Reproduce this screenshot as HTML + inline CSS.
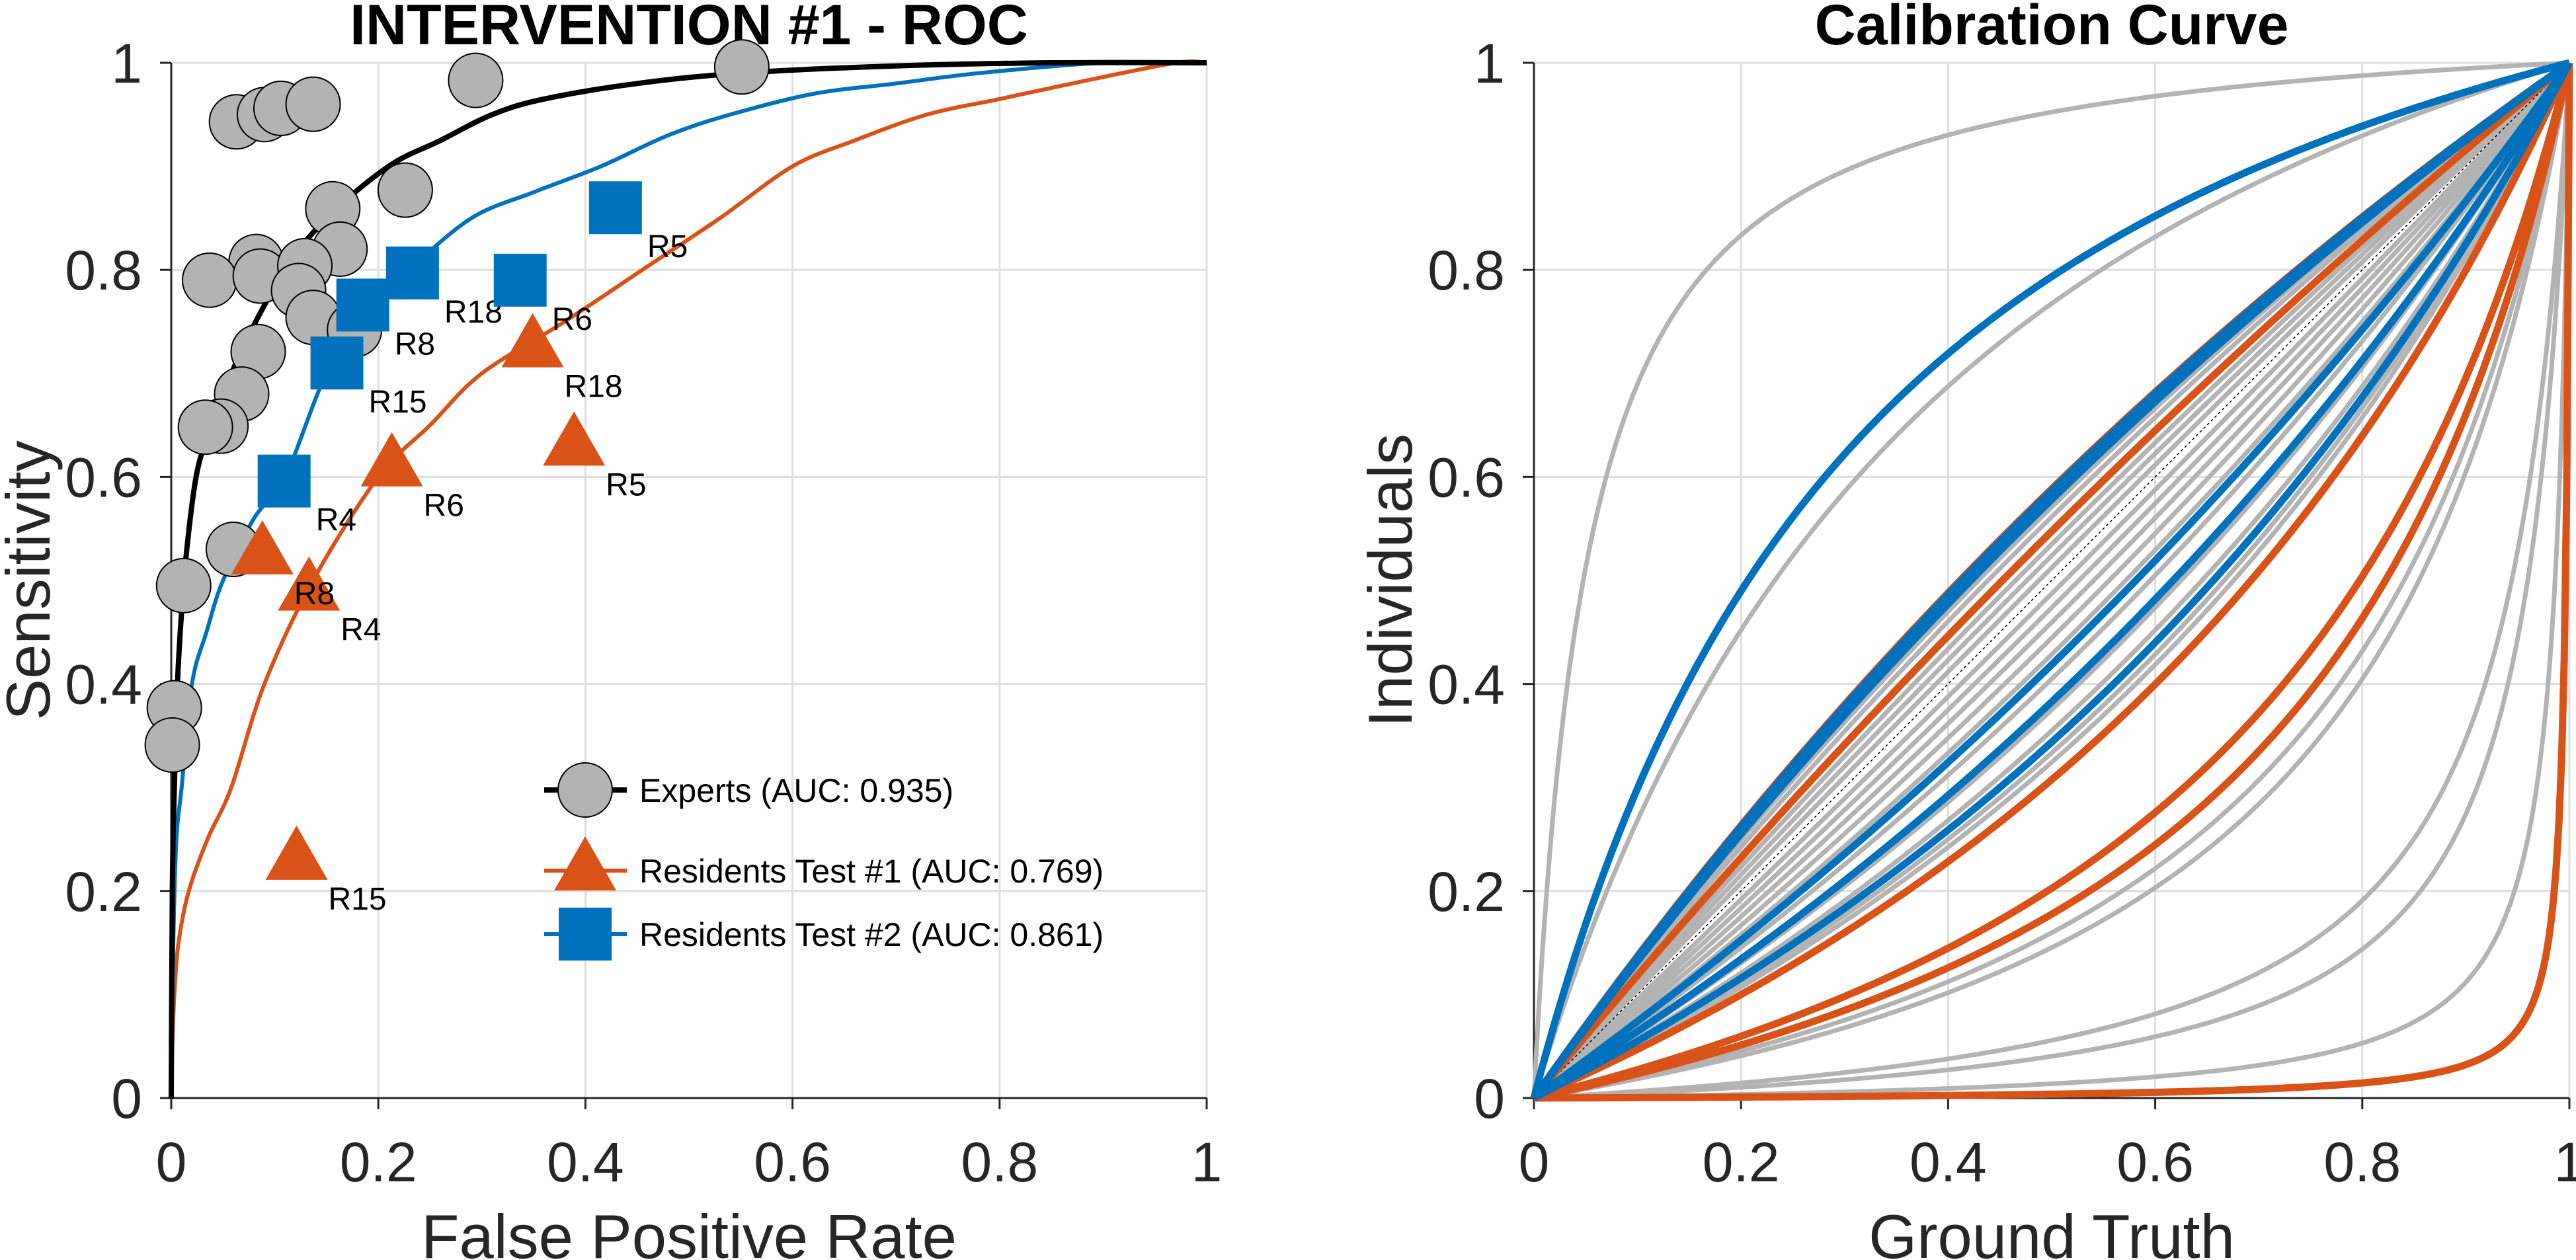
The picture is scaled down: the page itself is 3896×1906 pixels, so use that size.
<!DOCTYPE html>
<html><head><meta charset="utf-8">
<style>
html,body{margin:0;padding:0;background:#fff;}
svg{display:block;font-family:"Liberation Sans",Arial,sans-serif;}
</style></head>
<body>
<svg id="fig" width="3896" height="1906" viewBox="0 0 3896 1906" xmlns="http://www.w3.org/2000/svg">
<g id="left"></g>
<g id="right"></g>
</svg>
<script>
// ---------- ROC data ----------
const ticks = [0, 0.2, 0.4, 0.6, 0.8, 1];
const tickLabels = ["0", "0.2", "0.4", "0.6", "0.8", "1"];
const expertsRocX = [0,0.001,0.003,0.006,0.01,0.015,0.024,0.035,0.05,0.074,0.11,0.15,0.21,0.26,0.31,0.36,0.45,0.55,0.7,0.85,1];
const expertsRocY = [0,0.2,0.3,0.4,0.47,0.53,0.6,0.64,0.68,0.735,0.8,0.85,0.9,0.925,0.95,0.965,0.98,0.99,0.997,1,1];
const test2RocX = [0,0.002,0.005,0.01,0.02,0.034,0.05,0.08,0.11,0.15,0.19,0.23,0.29,0.35,0.415,0.48,0.54,0.62,0.7,0.78,0.9,1];
const test2RocY = [0,0.15,0.25,0.3,0.4,0.45,0.5,0.56,0.6,0.7,0.76,0.8,0.85,0.875,0.9,0.93,0.95,0.97,0.98,0.99,1,1];
const test1RocX = [0,0.001,0.003,0.007,0.017,0.035,0.058,0.09,0.137,0.2,0.25,0.3,0.38,0.455,0.53,0.6,0.66,0.73,0.8,0.87,0.97,1];
const test1RocY = [0,0.05,0.1,0.15,0.2,0.25,0.3,0.4,0.5,0.6,0.65,0.7,0.75,0.8,0.85,0.9,0.925,0.95,0.965,0.98,1,1];
const expertsFpr = [0.294,0.551,0.063,0.090,0.106,0.137,0.226,0.156,0.163,0.082,0.037,0.086,0.129,0.123,0.137,0.177,0.084,0.068,0.048,0.033,0.060,0.012,0.003,0.001];
const expertsTpr = [0.983,0.996,0.943,0.950,0.956,0.960,0.877,0.859,0.820,0.808,0.790,0.794,0.804,0.780,0.754,0.742,0.721,0.680,0.649,0.648,0.530,0.495,0.377,0.341];
const test1Names = ["R8","R4","R6","R18","R5","R15"];
const test1Fpr = [0.088,0.133,0.213,0.349,0.389,0.121];
const test1Tpr = [0.525,0.490,0.610,0.725,0.630,0.230];
const test2Names = ["R4","R15","R8","R18","R6","R5"];
const test2Fpr = [0.109,0.160,0.185,0.233,0.337,0.429];
const test2Tpr = [0.596,0.710,0.766,0.797,0.790,0.860];
const legendLabels = ["Experts (AUC: 0.935)","Residents Test #1 (AUC: 0.769)","Residents Test #2 (AUC: 0.861)"];
// ---------- Calibration data (curve shape parameter per individual) ----------
const grayA = [20,3.3,1.38,1.33,1.28,1.2,1.15,1.1,1.05,0.95,0.9,0.85,0.8,0.75,0.68,0.6,0.55,0.5,0.48,0.19,0.17,0.059,0.042,0.014];
const orangeA = [1.43,1.21,0.444,0.254,0.216,0.0037];
const blueA = [3.84,1.42,1.40,1.37,0.72,0.62,0.524];

const NS="http://www.w3.org/2000/svg";
const C={orange:"#d95319",blue:"#0072bd",gray:"#b3b3b3",ax:"#262626",grid:"#dedede"};
function mk(parent,tag,attrs,text){const e=document.createElementNS(NS,tag);for(const k in attrs)e.setAttribute(k,attrs[k]);if(text!==undefined)e.textContent=text;parent.appendChild(e);return e;}
const H=1566, Y0=95, Y1=1661;
function axes(g,X0,title,xlab,ylab,ylabX){
  const sx=v=>X0+v*H, sy=v=>Y1-v*H;
  ticks.forEach((t,i)=>{
    let l=mk(g,"line",{x1:sx(t),x2:sx(t),y1:Y0,y2:Y1,stroke:C.grid,"stroke-width":3});
    
    
    l=mk(g,"line",{x1:X0,x2:X0+H,y1:sy(t),y2:sy(t),stroke:C.grid,"stroke-width":3});
    
    
  });
  let a=mk(g,"line",{x1:X0,x2:X0+H,y1:Y1,y2:Y1,stroke:C.ax,"stroke-width":3});
  
  
  a=mk(g,"line",{x1:X0,x2:X0,y1:Y0,y2:Y1,stroke:C.ax,"stroke-width":3});
  
  
  ticks.forEach((t,i)=>{
    mk(g,"line",{x1:sx(t),x2:sx(t),y1:Y1,y2:Y1+17,stroke:C.ax,"stroke-width":3});
    mk(g,"line",{x1:X0-17,x2:X0,y1:sy(t),y2:sy(t),stroke:C.ax,"stroke-width":3});
    let tx=mk(g,"text",{x:sx(t),y:1787,"text-anchor":"middle","font-size":84,fill:C.ax},tickLabels[i]);
    
    
    let ty=mk(g,"text",{x:X0-44,y:sy(t)+30,"text-anchor":"end","font-size":84,fill:C.ax},tickLabels[i]);
    
    
  });
  let tt=mk(g,"text",{x:X0+H/2,y:67,"text-anchor":"middle","font-size":86,"font-weight":"bold",fill:"#000"},title);
  
  
  let xl=mk(g,"text",{x:X0+H/2,y:1903,"text-anchor":"middle","font-size":94,fill:C.ax},xlab);
  
  
  let yl=mk(g,"text",{x:0,y:0,"text-anchor":"middle","font-size":94,fill:C.ax,transform:`translate(${ylabX},878) rotate(-90)`},ylab);
  
  
  return [sx,sy];
}
// ---------- Left ROC ----------
(function(){
  const g=document.getElementById("left");
  const [sx,sy]=axes(g,259,"INTERVENTION #1 - ROC","False Positive Rate","Sensitivity",75);
  function curve(xs,ys,col,w,name){
    const P=xs.map((x,i)=>[sx(x),sy(ys[i])]);
    let d="M"+P[0][0].toFixed(1)+","+P[0][1].toFixed(1);
    for(let i=0;i<P.length-1;i++){
      const p0=P[Math.max(0,i-1)],p1=P[i],p2=P[i+1],p3=P[Math.min(P.length-1,i+2)];
      const c1=[p1[0]+(p2[0]-p0[0])/6,p1[1]+(p2[1]-p0[1])/6];
      const c2=[p2[0]-(p3[0]-p1[0])/6,p2[1]-(p3[1]-p1[1])/6];
      d+="C"+c1.map(v=>v.toFixed(1)).join(",")+" "+c2.map(v=>v.toFixed(1)).join(",")+" "+p2.map(v=>v.toFixed(1)).join(",");
    }
    const p=mk(g,"path",{d:d,fill:"none",stroke:col,"stroke-width":w,"stroke-linejoin":"round"});
    
    
  }
  curve(test1RocX,test1RocY,C.orange,6,"roc-curve-test1");
  curve(test2RocX,test2RocY,C.blue,6,"roc-curve-test2");
  curve(expertsRocX,expertsRocY,"#000",8,"roc-curve-experts");
  expertsFpr.forEach((x,i)=>{
    const c=mk(g,"circle",{cx:sx(x),cy:sy(expertsTpr[i]),r:41,fill:C.gray,stroke:"#000","stroke-width":2});
    
    
  });
  function tri(cx,cy){return `${cx},${cy-52} ${cx-47},${cy+30} ${cx+47},${cy+30}`;}
  test1Fpr.forEach((x,i)=>{
    const cx=sx(x),cy=sy(test1Tpr[i]);
    const p=mk(g,"polygon",{points:tri(cx,cy),fill:C.orange});
    
    
  });
  test1Fpr.forEach((x,i)=>{
    const cx=sx(x),cy=sy(test1Tpr[i]);
    const t=mk(g,"text",{x:cx+48,y:cy+75,"font-size":48,fill:"#000"},test1Names[i]);
    
    
  });
  test2Fpr.forEach((x,i)=>{
    const cx=sx(x),cy=sy(test2Tpr[i]);
    const r=mk(g,"rect",{x:cx-40,y:cy-40,width:80,height:80,fill:C.blue});
    
    
    const t=mk(g,"text",{x:cx+48,y:cy+75,"font-size":48,fill:"#000"},test2Names[i]);
    
    
  });
  // legend
  const rows=[1195,1317,1413], lx=885;
  const lg=mk(g,"g",{});
  
  
  const cols=["#000",C.orange,C.blue];
  rows.forEach((y,i)=>{
    const e=mk(lg,"g",{});
    
    
    mk(e,"line",{x1:823,x2:948,y1:y,y2:y,stroke:cols[i],"stroke-width":i==0?8:6});
    if(i==0) mk(e,"circle",{cx:lx,cy:y,r:41,fill:C.gray,stroke:"#000","stroke-width":2});
    if(i==1) mk(e,"polygon",{points:tri(lx,y)});
    if(i==1) e.lastChild.setAttribute("fill",C.orange);
    if(i==2) mk(e,"rect",{x:lx-40,y:y-40,width:80,height:80,fill:C.blue});
    mk(e,"text",{x:967,y:y+18,"font-size":50,fill:"#000"},legendLabels[i]);
  });
})();
// ---------- Right calibration ----------
(function(){
  const g=document.getElementById("right");
  const [sx,sy]=axes(g,2320,"Calibration Curve","Ground Truth","Individuals",2135);
  function cal(a,col,w,name){
    let d="";
    for(let i=0;i<=400;i++){const x=i/400;const y=a*x/(1+(a-1)*x);d+=(i?"L":"M")+sx(x).toFixed(1)+","+sy(y).toFixed(1);}
    const p=mk(g,"path",{d:d,fill:"none",stroke:col,"stroke-width":w,"stroke-linejoin":"round"});
    
    
  }
  grayA.forEach(a=>cal(a,C.gray,7,"expert-calibration-curve"));
  const dg=mk(g,"line",{x1:sx(0),y1:sy(0),x2:sx(1),y2:sy(1),stroke:"#000","stroke-width":1.5,"stroke-dasharray":"4,4"});
  
  
  orangeA.forEach(a=>cal(a,C.orange,11,"test1-calibration-curve"));
  blueA.forEach(a=>cal(a,C.blue,11,"test2-calibration-curve"));
})();
</script>
</body></html>
